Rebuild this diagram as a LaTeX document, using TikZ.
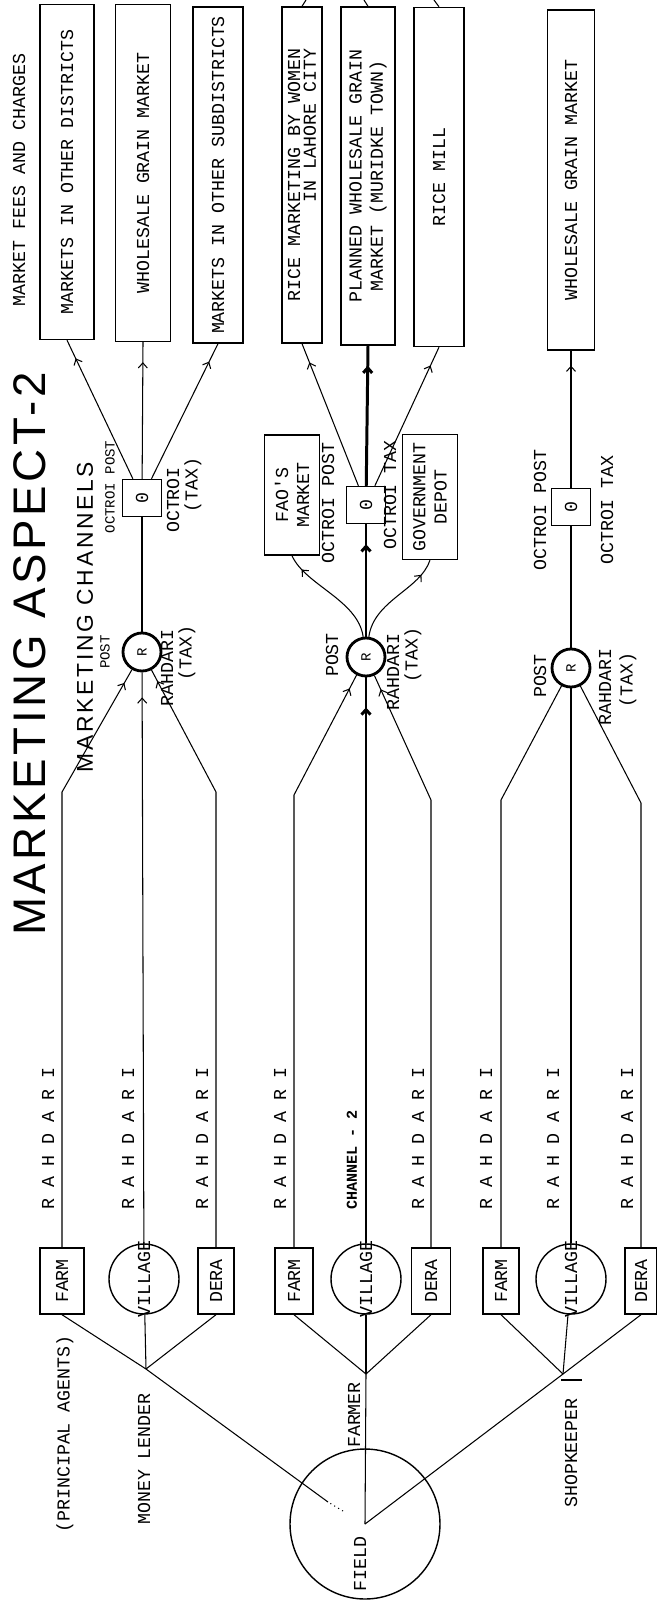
\documentclass[tikz,border=0pt]{standalone}
\usepackage{fontspec}
\setmonofont{Liberation Mono}
\newfontfamily\titlefont[LetterSpace=8]{Liberation Sans}
\newfontfamily\subfont[LetterSpace=12]{Liberation Sans}
\usepackage{tikz}
\usetikzlibrary{arrows.meta,decorations.markings}
\newcommand\typew{\fontsize{10.4}{12}\selectfont\ttfamily}
\newcommand\typesm{\fontsize{8}{9}\selectfont\ttfamily}
\tikzset{
  market/.style={draw,rotate=90,line width=0.8pt,inner sep=2pt,align=center,font=\typew},
  hut/.style={draw,rotate=90,line width=0.8pt,inner sep=0pt,minimum width=13.2mm,font=\typew},
  villg/.style={draw,circle,rotate=90,line width=0.8pt,inner sep=0pt,minimum size=14mm,font=\typew},
  lbl/.style={rotate=90,inner sep=1pt,font=\typew},
  lblsm/.style={rotate=90,inner sep=1pt,font=\typesm},
  rpost/.style={draw,circle,rotate=90,line width=1.6pt,minimum size=7.6mm,inner sep=0pt,font=\typesm},
  opost/.style={draw,rotate=90,line width=0.8pt,minimum width=7.4mm,minimum height=7.8mm,inner sep=0pt,font=\typew},
  flow/.style={draw,line width=0.6pt},
  chan/.style={draw,line width=1.7pt},
  chev/.style={postaction={decorate},decoration={markings,%
    mark=at position #1 with {\arrow{Straight Barb[length=1mm,width=1.8mm]}}}},
}

\begin{document}
\begin{tikzpicture}[x=0.02cm,y=-0.02cm]
\path[fill=white,use as bounding box] (0,0) rectangle (656,1601);

% headings
\node[rotate=90,font=\titlefont\fontsize{26}{28}\selectfont] (title) at (30,654) {MARKETING ASPECT-2};
\node[rotate=90,font=\subfont\fontsize{13}{15}\selectfont] (subtitle) at (85,617) {MARKETING CHANNELS};
\node[lbl] (fees) at (19,180) {MARKET FEES AND CHARGES};

% final markets
\node[market,minimum width=67mm,minimum height=10.8mm] (othdist) at (67,172) {MARKETS IN OTHER DISTRICTS};
\node[market,minimum width=67.4mm,minimum height=11mm] (wholeA) at (143,173) {WHOLESALE GRAIN MARKET};
\node[market,minimum width=67.2mm,minimum height=10mm] (othsub) at (218,175) {MARKETS IN OTHER SUBDISTRICTS};
\node[market,minimum width=67.2mm,minimum height=8mm,align=right,%
  font=\fontsize{10.4}{9}\selectfont\ttfamily] (ricewomen) at (302,175) {RICE MARKETING BY WOMEN\\IN LAHORE CITY};
\node[market,minimum width=67.6mm,minimum height=10.8mm] (planned) at (368,176) {PLANNED WHOLESALE GRAIN\\MARKET (MURIDKE TOWN)};
\node[market,minimum width=67.8mm,minimum height=10mm] (ricemill) at (439,177) {RICE MILL};
\node[market,minimum width=68mm,minimum height=9.4mm] (wholeC) at (571,180) {WHOLESALE GRAIN MARKET};
\node[market,minimum width=24mm,minimum height=11mm] (fao) at (292,495) {FAO'S\\MARKET};
\node[market,minimum width=25mm,minimum height=11mm] (govt) at (430,497) {GOVERNMENT\\DEPOT};

% octroi and rahdari posts
\node[opost] (octA) at (142,498) {0};
\node[opost] (octB) at (366,505) {0};
\node[opost] (octC) at (571,507) {0};
\node[rpost] (rahA) at (142,652) {R};
\node[rpost] (rahB) at (366,657) {R};
\node[rpost] (rahC) at (571,668) {R};

\node[lblsm] (postA) at (105,652) {POST};
\node[lbl] (rtaxA) at (167,668) {RAHDARI};
\node[lbl] (rtaxA2) at (187,653) {(TAX)};
\node[lblsm] (opostA) at (110,487) {OCTROI POST};
\node[lbl] (otaxA) at (173,500) {OCTROI};
\node[lbl] (otaxA2) at (193,485) {(TAX)};
\node[lbl] (postB) at (332,655) {POST};
\node[lbl] (rtaxB) at (393,672) {RAHDARI};
\node[lbl] (rtaxB2) at (413,655) {(TAX)};
\node[lbl] (opostB) at (328,503) {OCTROI POST};
\node[lbl] (otaxB) at (390,495) {OCTROI TAX};
\node[lbl] (postC) at (540,676) {POST};
\node[lbl] (rtaxC) at (605,687) {RAHDARI};
\node[lbl] (rtaxC2) at (628,680) {(TAX)};
\node[lbl] (opostC) at (540,510) {OCTROI POST};
\node[lbl] (otaxC) at (607,510) {OCTROI TAX};

% places of sale
\node[hut,minimum height=8.8mm] (farmA) at (62,1281) {FARM};
\node[villg] (villA) at (144,1279) {\makebox[0pt]{VILLAGE}};
\node[hut,minimum height=7.2mm] (deraA) at (216,1281) {DERA};
\node[hut,minimum height=7.6mm] (farmB) at (294,1281) {FARM};
\node[villg] (villB) at (366,1279) {\makebox[0pt]{VILLAGE}};
\node[hut,minimum height=7.8mm] (deraB) at (431,1281) {DERA};
\node[hut,minimum height=7.2mm] (farmC) at (501,1281) {FARM};
\node[villg] (villC) at (571,1279) {\makebox[0pt]{VILLAGE}};
\node[hut,minimum height=6.4mm] (deraC) at (641,1281) {DERA};

\foreach \x/\n in {48/rdA1,128/rdA2,202/rdA3,280/rdB1,418/rdB3,486/rdC1,553/rdC2,627/rdC3}
  \node[lbl,anchor=west] (\n) at (\x,1212) {R A H D A R I};
\node[lbl,anchor=west,font=\fontsize{8.6}{10}\selectfont\ttfamily\bfseries] (chtwo) at (352,1212) {CHANNEL - 2};

% agents
\node[circle,draw,line width=0.8pt,minimum size=30mm,inner sep=0pt] (field) at (365,1524) {};
\node[lbl] (fieldtxt) at (360,1564) {FIELD};
\node[lbl] (principal) at (65,1434) {(PRINCIPAL AGENTS)};
\node[lbl] (lender) at (144,1459) {MONEY LENDER};
\node[lbl] (farmer) at (354,1415) {FARMER};
\node[lbl] (shopkpr) at (571,1453) {SHOPKEEPER};

\coordinate (jA) at (146,1369);
\coordinate (jB) at (366,1374);
\coordinate (jC) at (563,1374);
\coordinate (jCt) at (561,1380);
\coordinate (tick) at (582,1380);
\coordinate (mlA) at (328,1502);
\coordinate (mlB) at (343,1511);
\coordinate (bA1) at (62,792);
\coordinate (bA3) at (216,792);
\coordinate (bB1) at (294,795);
\coordinate (bB3) at (431,800);
\coordinate (bC1) at (501,800);
\coordinate (bC3) at (641,803);
\coordinate (cutB1) at (306,0);
\coordinate (cutB2) at (364,0);
\coordinate (cutB3) at (434,0);

% field to agents
\draw[flow,dotted] (mlB) -- (mlA);
\draw[flow] (mlA) -- (jA) -- (farmA.west);
\draw[flow] (jA) -- (villA);
\draw[flow] (jA) -- (deraA.west);
\draw[flow] (field.center) -- (jB);
\draw[flow] (jB) -- (farmB.west);
\draw[flow] (jB) -- (villB);
\draw[flow] (jB) -- (deraB.west);
\draw[flow] (field.center) -- (jC);
\draw[flow] (jC) -- (farmC.west);
\draw[flow] (jC) -- (villC);
\draw[flow] (jC) -- (deraC.west);
\draw[flow] (jCt) -- (tick);

% to rahdari posts
\draw[flow,chev=-3mm] (farmA.east) -- (bA1) -- (rahA);
\draw[flow,chev=-5mm] (villA) -- (rahA);
\draw[flow,chev=-2.5mm] (deraA.east) -- (bA3) -- (rahA);
\draw[flow,chev=-3mm] (farmB.east) -- (bB1) -- (rahB);
\draw[chan,chev=-6mm] (villB) -- (rahB);
\draw[flow,chev=-3mm] (deraB.east) -- (bB3) -- (rahB);
\draw[flow] (farmC.east) -- (bC1) -- (rahC);
\draw[flow] (villC) -- (rahC);
\draw[flow] (deraC.east) -- (bC3) -- (rahC);

% to octroi posts
\draw[flow] (rahA) -- (octA);
\draw[chan,chev=-4mm] (rahB) -- (octB);
\draw[flow] (rahC) -- (octC);
\draw[flow,chev=-3.4mm] (rahB) .. controls (358,600) and (305,585) .. (fao.west);
\draw[flow,chev=-3.4mm] (rahB) .. controls (374,600) and (420,590) .. (govt.west);

% to markets
\draw[flow,chev=-4mm] (octA) -- (othdist.west);
\draw[flow,chev=-4mm] (octA) -- (wholeA.west);
\draw[flow,chev=-4mm] (octA) -- (othsub.west);
\draw[flow,chev=-4mm] (octB) -- (ricewomen.west);
\draw[chan,chev=-4mm] (octB) -- (planned.west);
\draw[flow,chev=-4mm] (octB) -- (ricemill.west);
\draw[flow,chev=-3mm] (octC) -- (wholeC.west);
\draw[flow] (ricewomen.east) -- (cutB1);
\draw[flow] (planned.east) -- (cutB2);
\draw[flow] (ricemill.east) -- (cutB3);
\end{tikzpicture}
\end{document}
